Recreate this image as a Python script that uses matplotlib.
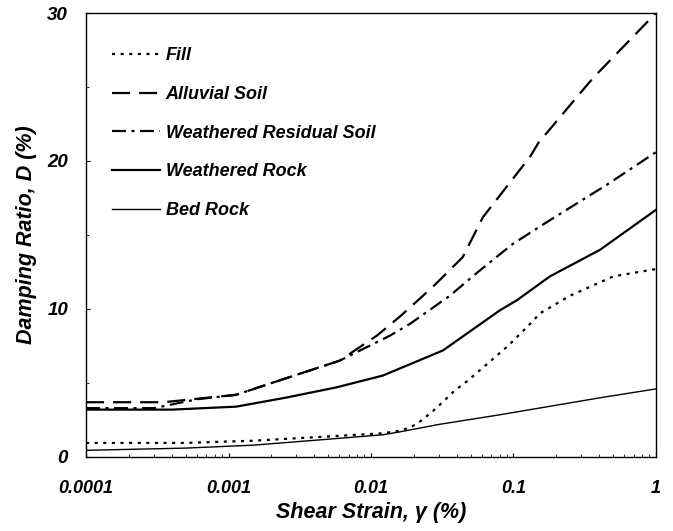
import matplotlib
matplotlib.use("Agg")
import matplotlib.pyplot as plt
from matplotlib.ticker import FixedLocator, NullFormatter, LogLocator

plt.rcParams['font.family'] = ['Liberation Sans', 'DejaVu Sans']
plt.rcParams['lines.scale_dashes'] = False

# Damping ratio curves (shear strain in %, damping in %)
fill_x = [0.0001, 0.0005, 0.0015, 0.0043, 0.0121, 0.0165, 0.0208, 0.0265, 0.0318,
          0.0388, 0.047, 0.0915, 0.131, 0.153, 0.25, 0.5, 1.0]
fill_y = [0.95, 0.95, 1.1, 1.35, 1.6, 1.8, 2.2, 3.0, 3.7, 4.5, 5.1, 7.5, 9.0, 9.7,
          10.9, 12.2, 12.7]

alluvial_x = [0.0001, 0.00035, 0.00113, 0.0025, 0.006, 0.011, 0.016, 0.0272, 0.044,
              0.061, 0.131, 0.149, 0.241, 0.361, 1.0]
alluvial_y = [3.7, 3.7, 4.2, 5.3, 6.5, 8.2, 9.5, 11.5, 13.5, 16.2, 20.3, 21.2, 23.6,
              25.6, 30.0]

residual_x = [0.0001, 0.0003, 0.0006, 0.00113, 0.0025, 0.006, 0.0136, 0.0188, 0.0358,
              0.058, 0.099, 0.18, 0.453, 1.0]
residual_y = [3.3, 3.3, 3.9, 4.2, 5.3, 6.5, 8.2, 9.0, 10.9, 12.6, 14.4, 16.0, 18.4, 20.6]

wrock_x = [0.0001, 0.0004, 0.00113, 0.0025, 0.0057, 0.0121, 0.032, 0.08, 0.106, 0.18,
           0.405, 1.0]
wrock_y = [3.2, 3.2, 3.4, 4.0, 4.7, 5.5, 7.2, 9.9, 10.6, 12.2, 14.0, 16.7]

bed_x = [0.0001, 0.0005, 0.0015, 0.0043, 0.0121, 0.016, 0.03, 0.08, 0.405, 1.0]
bed_y = [0.45, 0.6, 0.8, 1.15, 1.5, 1.7, 2.2, 2.85, 4.0, 4.6]

x_ticks = [0.0001, 0.001, 0.01, 0.1, 1]
x_ticklabels = ["0.0001", "0.001", "0.01", "0.1", "1"]
y_ticks = [0, 10, 20, 30]
y_ticklabels = ["0", "10", "20", "30"]

fig = plt.figure(figsize=(6.73, 5.31), dpi=100)
ax = fig.add_axes([0.1278, 0.1394, 0.8469, 0.8361])

font = dict(family=['Liberation Sans', 'DejaVu Sans'], weight='bold', style='italic')

ax.plot(fill_x, fill_y, color='black', lw=1.6, dashes=(2.2, 4.0), label='Fill')
ax.plot(alluvial_x, alluvial_y, color='black', lw=1.6, dashes=(13, 6.5),
        label='Alluvial Soil')
ax.plot(residual_x, residual_y, color='black', lw=1.6, dashes=(10, 4, 2.2, 4),
        label='Weathered Residual Soil')
ax.plot(wrock_x, wrock_y, color='black', lw=1.6, label='Weathered Rock')
ax.plot(bed_x, bed_y, color='black', lw=1.0, label='Bed Rock')

ax.set_xscale('log')
ax.set_xlim(0.0001, 1)
ax.set_ylim(0, 30)

ax.xaxis.set_major_locator(FixedLocator(x_ticks))
ax.set_xticklabels(x_ticklabels, fontdict=dict(size=13, **font))
ax.xaxis.set_minor_locator(LogLocator(base=10, subs=range(2, 10)))
ax.xaxis.set_minor_formatter(NullFormatter())
ax.yaxis.set_major_locator(FixedLocator(y_ticks))
ax.set_yticklabels(y_ticklabels, fontdict=dict(size=13.5, **font))
ax.yaxis.set_minor_locator(FixedLocator([5, 15, 25]))

ax.tick_params(which='major', direction='in', length=3, width=0.8)
ax.tick_params(which='minor', direction='in', length=2.5, width=0.6)
ax.tick_params(axis='x', which='major', pad=16.5)
ax.tick_params(axis='y', which='major', pad=13)

for s in ax.spines.values():
    s.set_linewidth(1.0)

ax.set_xlabel('Shear Strain, γ (%)', fontdict=dict(size=15.5, **font), labelpad=4)
ax.set_ylabel('Damping Ratio, D (%)', fontdict=dict(size=15.5, **font), labelpad=7)

leg = ax.legend(loc='upper left', frameon=False, handlelength=2.67, handletextpad=0.3,
                labelspacing=1.2, bbox_to_anchor=(0.017, 0.959),
                prop=dict(size=13, **font))

fig.savefig('out.png', dpi=100)
